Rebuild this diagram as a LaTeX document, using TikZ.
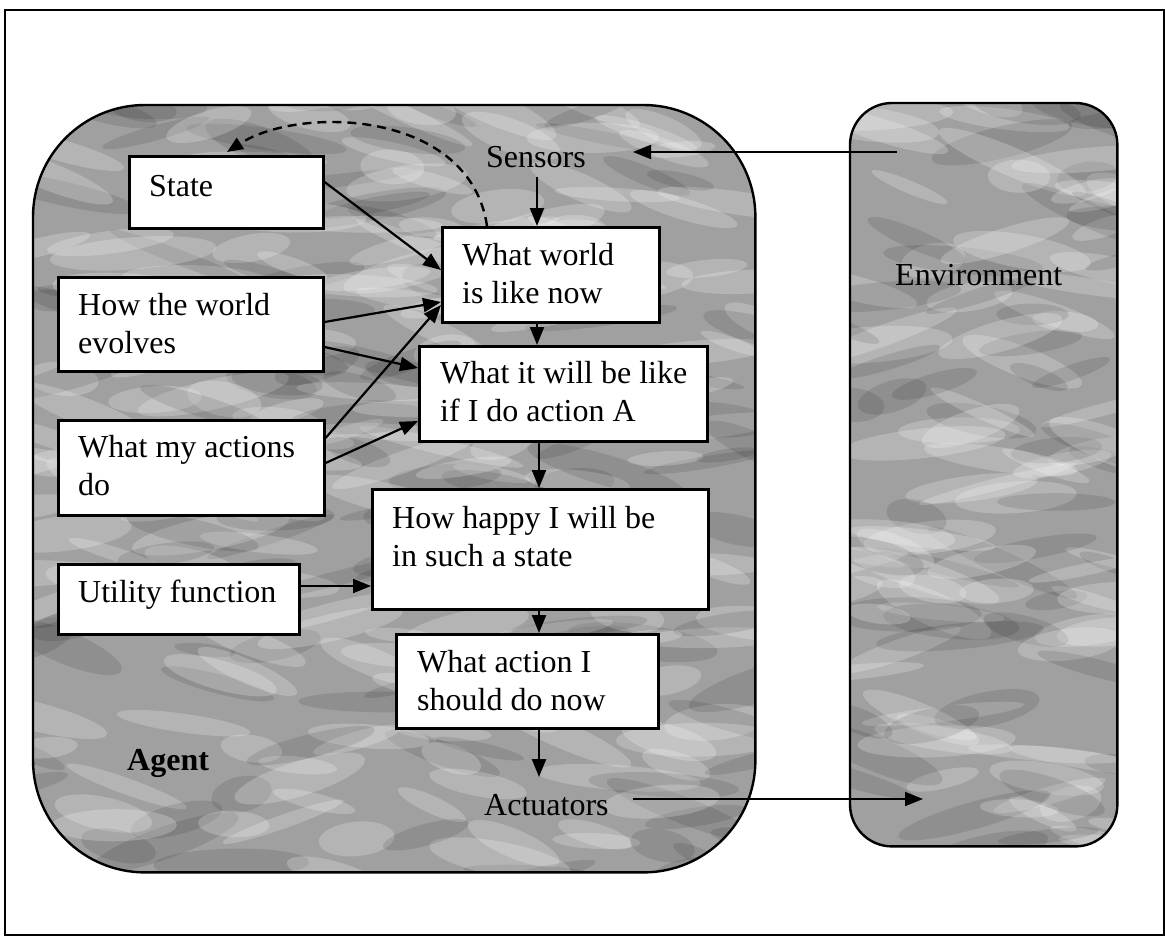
\documentclass[tikz,border=0pt]{standalone}
\usepackage{fontspec}
\setmainfont{Liberation Serif}
\usetikzlibrary{arrows.meta,calc}
\definecolor{texgray}{RGB}{160,160,160}
\tikzset{
  x=1pt, y=-1pt,
  frame/.style={draw=black, line width=1.4pt},
  region/.style={fill=texgray, anchor=north west, inner sep=0pt},
  rim/.style={draw=black, line width=2.4pt},
  box/.style={draw=black, line width=2.6pt, fill=white, anchor=north west, inner sep=0pt},
  lbl/.style={anchor=north west, inner sep=0pt, align=left, font=\fontsize{32}{38}\selectfont},
  word/.style={anchor=base west, inner sep=0pt, font=\fontsize{32}{38}\selectfont},
  arr/.style={line width=2.2pt, -{Triangle[length=18pt,width=14pt]}},
  thinarr/.style={line width=1.8pt, -{Triangle[length=18pt,width=14pt]}},
  dasharr/.style={line width=2.4pt, dash pattern=on 9pt off 6pt, -{Triangle[length=16pt,width=13pt]}},
}
\newcommand{\fl}{\rule{0pt}{25pt}}
\newcommand{\mottle}[5]{% x0 y0 w h count
  \foreach \i in {1,...,#5}{%
    \pgfmathsetmacro{\cx}{#1+#3*rnd}%
    \pgfmathsetmacro{\cy}{#2+#4*rnd}%
    \pgfmathsetmacro{\rx}{30+55*rnd}%
    \pgfmathsetmacro{\ry}{6+12*rnd}%
    \pgfmathsetmacro{\ang}{-25+45*rnd}%
    \pgfmathsetmacro{\sh}{rnd}%
    \ifdim\sh pt<0.6pt
      \fill[white, opacity=0.22, rotate around={\ang:(\cx,\cy)}] (\cx,\cy) ellipse [x radius=\rx, y radius=\ry];
    \else
      \fill[black, opacity=0.10, rotate around={\ang:(\cx,\cy)}] (\cx,\cy) ellipse [x radius=\rx, y radius=\ry];
    \fi
  }}
\begin{document}
\begin{tikzpicture}
\useasboundingbox (0,0) rectangle (1165,942);
\draw[frame] (5,10) rectangle (1164,935);

% regions
\node[region, rounded corners=112pt, minimum width=722pt, minimum height=767pt] (agent) at (33,105) {};
\node[region, rounded corners=42pt, minimum width=267pt, minimum height=743pt] (env) at (850,103) {};
\pgfmathsetseed{11}
\begin{scope}
  \clip[rounded corners=112pt] (agent.north west) rectangle (agent.south east);
  \mottle{20}{95}{750}{790}{300}
\end{scope}
\begin{scope}
  \clip[rounded corners=42pt] (env.north west) rectangle (env.south east);
  \mottle{830}{90}{300}{770}{130}
\end{scope}
\draw[rim, rounded corners=112pt] (agent.north west) rectangle (agent.south east);
\draw[rim, rounded corners=42pt] (env.north west) rectangle (env.south east);

% boxes
\node[box, minimum width=194pt, minimum height=72pt] (state) at (128,155) {};
\node[box, minimum width=265pt, minimum height=94pt] (how) at (57,276) {};
\node[box, minimum width=266pt, minimum height=95pt] (act) at (57,419) {};
\node[box, minimum width=241pt, minimum height=70pt] (util) at (57,563) {};
\node[box, minimum width=217pt, minimum height=95pt] (now) at (441,226) {};
\node[box, minimum width=288pt, minimum height=95pt] (will) at (418,345) {};
\node[box, minimum width=336pt, minimum height=120pt] (happy) at (371,488) {};
\node[box, minimum width=262pt, minimum height=94pt] (what) at (395,633) {};

% box texts
\node[lbl] (stateT) at ($(state.north west)+(21,16)$) {\fl State};
\node[lbl] (howT) at ($(how.north west)+(21,14)$) {\fl How the world\\evolves};
\node[lbl] (actT) at ($(act.north west)+(21,13)$) {\fl What my actions\\do};
\node[lbl] (utilT) at ($(util.north west)+(21,14)$) {\fl Utility function};
\node[lbl] (nowT) at ($(now.north west)+(21,14)$) {\fl What world\\is like now};
\node[lbl] (willT) at ($(will.north west)+(22,13)$) {\fl What it will be like\\if I do action A};
\node[lbl] (happyT) at ($(happy.north west)+(21,15)$) {\fl How happy I will be\\in such a state};
\node[lbl] (whatT) at ($(what.north west)+(22,14)$) {\fl What action I\\should do now};

% free labels
\node[word] (sens) at (486,167) {Sensors};
\node[word] (actu) at (484,815) {Actuators};
\node[word, font=\fontsize{32}{38}\selectfont\bfseries] (agentT) at (127,770) {Agent};
\node[word] (envT) at (895,285) {Environment};

% free ends
\coordinate (sensIn) at (633,152);
\coordinate (envIn) at (923,799);

% connectors
\draw[arr] ($(state.north east)+(0,27)$) -- ($(now.north west)+(0,44)$);
\draw[arr] ($(how.north east)+(0,46)$) -- ($(now.north west)+(0,76)$);
\draw[arr] ($(how.north east)+(0,71)$) -- ($(will.north west)+(0,23)$);
\draw[arr] ($(act.north east)+(0,19)$) -- ($(now.north west)+(0,79)$);
\draw[arr] ($(act.north east)+(0,44)$) -- ($(will.north west)+(0,76)$);
\draw[arr] ($(util.north east)+(0,23)$) -- ($(happy.north west)+(0,98)$);

\draw[arr] ($(sens.base west)+(51,10)$) -- ($(now.north west)+(96,0)$);
\draw[arr] ($(now.south west)+(96,0)$) -- ($(will.north west)+(119,0)$);
\draw[arr] ($(will.south west)+(121,0)$) -- ($(happy.north west)+(168,0)$);
\draw[arr] ($(happy.south west)+(168,0)$) -- ($(what.north west)+(144,0)$);
\draw[arr] ($(what.south west)+(144,0)$) -- ($(actu.base west)+(55,-38)$);

\draw[thinarr] ($(env.north west)+(47,49)$) -- (sensIn);
\draw[thinarr] ($(actu.base west)+(149,-16)$) -- (envIn);

\draw[dasharr] ($(now.north west)+(46,0)$) .. controls (470,110) and (300,105) .. ($(state.north west)+(99,-3)$);
\end{tikzpicture}
\end{document}
